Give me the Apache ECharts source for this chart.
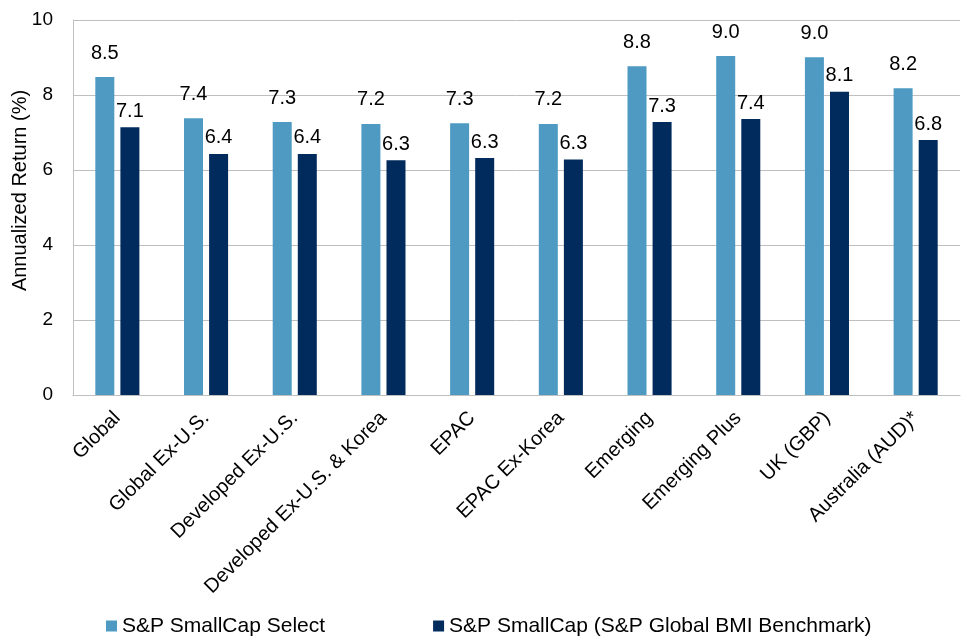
<!DOCTYPE html>
<html>
<head>
<meta charset="utf-8">
<script src="https://cdn.jsdelivr.net/npm/echarts@6/dist/echarts.min.js"></script>
<style>html,body{margin:0;padding:0;background:#fff}#c{width:962px;height:637px}</style>
</head>
<body>
<div id="c"></div>
<script>
const categories = ["Global","Global Ex-U.S.","Developed Ex-U.S.","Developed Ex-U.S. & Korea","EPAC","EPAC Ex-Korea","Emerging","Emerging Plus","UK (GBP)","Australia (AUD)*"];
const selectValues = [8.48, 7.38, 7.28, 7.23, 7.25, 7.23, 8.77, 9.04, 9.01, 8.18];
const benchmarkValues = [7.14, 6.43, 6.43, 6.26, 6.32, 6.28, 7.28, 7.36, 8.09, 6.80];
const seriesNames = ["S&P SmallCap Select", "S&P SmallCap (S&P Global BMI Benchmark)"];
const yTicks = [0, 2, 4, 6, 8, 10];

const font = "Liberation Sans, Arial, sans-serif";
const chart = echarts.init(document.getElementById('c'));
chart.setOption({
  animation: false,
  textStyle: { fontFamily: font },
  grid: { left: 73, right: 2, top: 20, bottom: 242, containLabel: false, outerBoundsMode: 'none' },
  legend: {
    left: 106, top: 615, padding: 0, itemWidth: 11, itemHeight: 11, itemGap: 108,
    icon: 'rect',
    textStyle: { fontSize: 21, lineHeight: 22, color: '#000', fontFamily: font },
    data: seriesNames
  },
  xAxis: {
    type: 'category', data: categories,
    axisLine: { lineStyle: { color: '#BFBFBF', width: 1 } },
    axisTick: { show: false },
    axisLabel: { rotate: 45, fontSize: 20, color: '#000', margin: 20, interval: 0, fontFamily: font }
  },
  yAxis: {
    type: 'value', min: 0, max: 10, interval: 2,
    name: 'Annualized Return (%)', nameLocation: 'middle', nameGap: 43, nameMoveOverlap: false,
    nameTextStyle: { fontSize: 20, color: '#000', fontFamily: font, padding: [0, 0, 0, 34] },
    axisLine: { show: true, lineStyle: { color: '#BFBFBF' } },
    axisTick: { show: false },
    axisLabel: { fontSize: 19, color: '#000', margin: 20, fontFamily: font,
      formatter: v => yTicks.includes(v) ? String(v) : '' },
    splitLine: { lineStyle: { color: '#BFBFBF', width: 1 } }
  },
  series: [
    {
      name: seriesNames[0], type: 'bar', data: selectValues, barWidth: 19, barGap: '32%',
      itemStyle: { color: '#4F9AC3' },
      label: { show: true, position: 'top', distance: 14, fontSize: 20, color: '#000',
        fontFamily: font, formatter: p => p.value.toFixed(1) }
    },
    {
      name: seriesNames[1], type: 'bar', data: benchmarkValues, barWidth: 19,
      itemStyle: { color: '#002B5C' },
      label: { show: true, position: 'top', distance: 6, fontSize: 20, color: '#000',
        fontFamily: font, formatter: p => p.value.toFixed(1) }
    }
  ]
});
</script>
</body>
</html>
